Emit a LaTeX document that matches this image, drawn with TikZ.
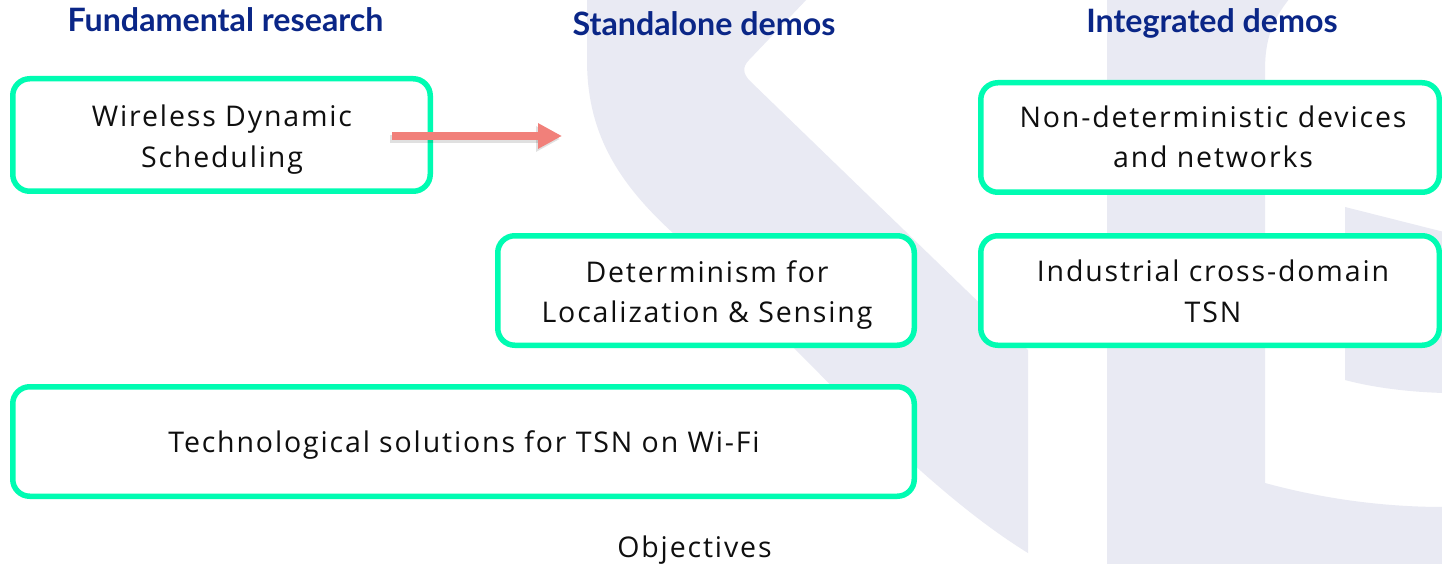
\documentclass[tikz,border=0pt]{standalone}
\usepackage{fontspec}
\setmainfont{Open Sans}
\newfontfamily\boxfont{Open Sans}[LetterSpace=6.5]
\newfontfamily\hdrfont{Lato}
\usetikzlibrary{arrows.meta}
\definecolor{wm}{RGB}{233,234,243}
\definecolor{mint}{RGB}{0,252,178}
\definecolor{navy}{RGB}{10,38,135}
\definecolor{salmon}{RGB}{241,128,122}
\definecolor{ink}{RGB}{15,15,15}
\begin{document}
\begin{tikzpicture}[x=1pt,y=-1pt,
  box/.style={draw=mint,line width=5.5pt,rounded corners=17pt,fill=white,inner sep=0pt},
  hdr/.style={font=\hdrfont\bfseries\fontsize{32.2}{32}\selectfont,text=navy,anchor=base,inner sep=0pt},
  txt/.style={font=\boxfont\fontsize{28.5}{28}\selectfont,text=ink,anchor=base,inner sep=0pt},
  arr/.style={draw=salmon,line width=8pt,-{Triangle[length=24pt,width=24pt]}}]
\useasboundingbox (0,0) rectangle (1442,564);
\fill[white] (0,0) rectangle (1442,564);
% watermark
\begin{scope}
\clip (0,0) rectangle (1442,564);
\fill[wm] (587,-2) -- (587,60) .. controls (587,130) and (615,180) .. (673,233) -- (793,347)
  .. controls (870,425) and (950,505) .. (1028,553) -- (1028,350) -- (750,81)
  .. controls (743,74) and (742,67) .. (749,60) -- (808,-2) -- cycle;
\fill[wm] (1107,-2) -- (1290,-2) .. controls (1272,20) and (1265,40) .. (1265,70) -- (1265,566) -- (1107,566) -- cycle;
\fill[wm] (1345,207) -- (1444,232) -- (1444,393) .. controls (1410,392) and (1375,388) .. (1345,380) -- cycle;
\fill[wm] (1265,483) .. controls (1320,498) and (1380,507) .. (1444,507) -- (1444,566) -- (1265,566) -- cycle;
\end{scope}
% headers
\node[hdr] (h1) at (225.5,32) {Fundamental research};
\node[hdr] (h2) at (704,36) {Standalone demos};
\node[hdr] (h3) at (1212,33) {Integrated demos};
% boxes
\node[box,minimum width=417.5pt,minimum height=112.5pt] (b1) at (221.5,135) {};
\node[box,minimum width=416.5pt,minimum height=109.5pt] (b2) at (706,290.5) {};
\node[box,minimum width=901.5pt,minimum height=109.5pt] (b3) at (463.5,441.5) {};
\node[box,minimum width=458.5pt,minimum height=109.5pt] (b4) at (1210,137.5) {};
\node[box,minimum width=458.5pt,minimum height=109.5pt] (b5) at (1210,290.5) {};
% arrow
\coordinate (a0) at (392,136);
\coordinate (a1) at (562,136);
\draw[arr,draw=black,opacity=0.12] ([shift={(-2pt,-3pt)}]a0) -- ([shift={(-2pt,-3pt)}]a1);
\draw[arr] (a0) -- (a1);
% texts
\node[txt] (t1a) at (222,127) {Wireless Dynamic};
\node[txt] (t1b) at (222,168) {Scheduling};
\node[txt] (t2a) at (707,282) {Determinism for};
\node[txt] (t2b) at (707,322) {Localization \& Sensing};
\node[txt] (t3) at (464,452) {Technological solutions for TSN on Wi-Fi};
\node[txt] (t4a) at (1213,128) {Non-deterministic devices};
\node[txt] (t4b) at (1213,168) {and networks};
\node[txt] (t5a) at (1213,281) {Industrial cross-domain};
\node[txt] (t5b) at (1213,322) {TSN};
\node[txt] (obj) at (694.5,557) {Objectives};
\end{tikzpicture}
\end{document}
